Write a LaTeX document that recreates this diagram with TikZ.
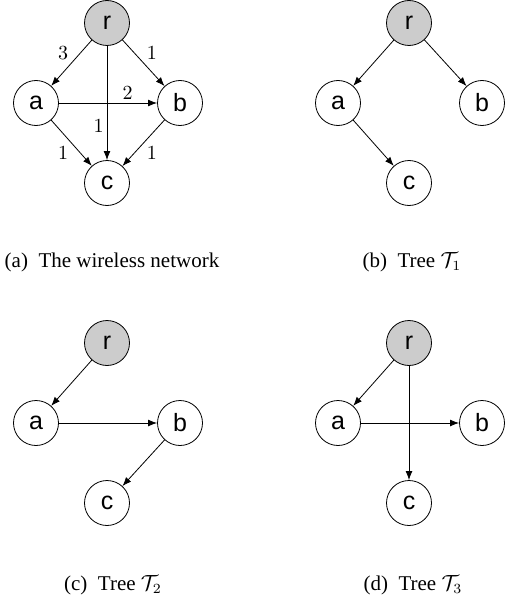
\documentclass[tikz,border=0pt]{standalone}
\usepackage[no-math]{fontspec}
\setmainfont{Liberation Serif}
\newfontfamily\nodefont{Liberation Sans}
\usetikzlibrary{arrows.meta,positioning}
\definecolor{rootgray}{RGB}{204,204,204}

\begin{document}
\begin{tikzpicture}[x=0.5pt, y=0.5pt, node distance=40pt and 35.5pt, on grid,
    >={Latex[length=4.5pt, width=3.4pt]},
    vertex/.style={circle, draw, minimum size=22.5pt, inner sep=0pt, font=\nodefont\fontsize{12.5}{14}\selectfont},
    root/.style={vertex, fill=rootgray},
    edge/.style={->},
    wlabel/.style={inner sep=1.5pt, font=\fontsize{10}{12}\selectfont},
    subcap/.style={anchor=base, font=\fontsize{10.5}{12}\selectfont}]
    \useasboundingbox (0,0) rectangle (507,-599);
    % same four nodes in every panel
    \foreach \p/\x/\y in {1/107/-23, 2/409/-23, 3/107/-343, 4/409/-343} {
        \node [root] (r\p) at (\x,\y) {r};
        \node [vertex, below left=of r\p] (a\p) {a};
        \node [vertex, right=72pt of a\p] (b\p) {b};
        \node [vertex, below right=of a\p] (c\p) {c};
    }
    % (a) the wireless network
    \draw [edge] (r1) -- node [wlabel, above left] {$3$} (a1);
    \draw [edge] (r1) -- node [wlabel, above right] {$1$} (b1);
    \draw [edge] (r1) -- node [wlabel, left, pos=0.7] {$1$} (c1);
    \draw [edge] (a1) -- node [wlabel, above, pos=0.7] {$2$} (b1);
    \draw [edge] (a1) -- node [wlabel, below left] {$1$} (c1);
    \draw [edge] (b1) -- node [wlabel, below right] {$1$} (c1);
    % (b) tree 1
    \draw [edge] (r2) -- (a2);
    \draw [edge] (r2) -- (b2);
    \draw [edge] (a2) -- (c2);
    % (c) tree 2
    \draw [edge] (r3) -- (a3);
    \draw [edge] (a3) -- (b3);
    \draw [edge] (b3) -- (c3);
    % (d) tree 3
    \draw [edge] (r4) -- (a4);
    \draw [edge] (a4) -- (b4);
    \draw [edge] (r4) -- (c4);
    % subcaptions
    \node [subcap] (capa) at (112,-267) {(a)\hspace{0.5em}The wireless network};
    \node [subcap] (capb) at (412,-267) {(b)\hspace{0.5em}Tree $\mathcal{T}_1$};
    \node [subcap] (capc) at (113,-590) {(c)\hspace{0.5em}Tree $\mathcal{T}_2$};
    \node [subcap] (capd) at (413,-590) {(d)\hspace{0.5em}Tree $\mathcal{T}_3$};
\end{tikzpicture}
\end{document}
